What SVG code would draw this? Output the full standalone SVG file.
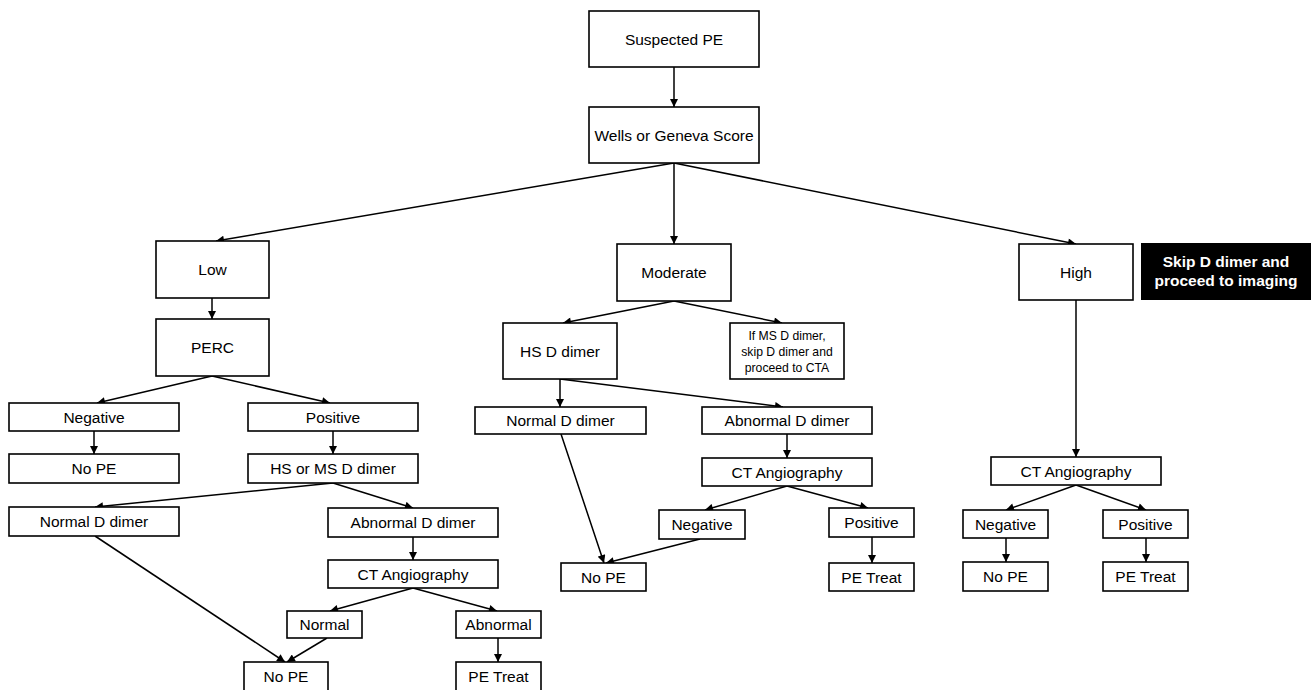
<svg xmlns="http://www.w3.org/2000/svg" width="1311" height="690" viewBox="0 0 1311 690">
<style>
.b{fill:#fff;stroke:#000;stroke-width:1.6}
.t{font-family:"Liberation Sans",Arial,sans-serif;font-size:15.5px;fill:#000;text-anchor:middle}
.s{font-family:"Liberation Sans",Arial,sans-serif;font-size:12.2px;fill:#000;text-anchor:middle}
.w{font-family:"Liberation Sans",Arial,sans-serif;font-size:15.5px;font-weight:bold;fill:#fff;text-anchor:middle}
.c line{stroke:#000;stroke-width:1.5;marker-end:url(#ah)}
</style>
<defs>
<marker id="ah" viewBox="0 0 10 10" refX="10" refY="5" markerWidth="9" markerHeight="8" markerUnits="userSpaceOnUse" orient="auto">
<path d="M0,0 L10,5 L0,10 z" fill="#000"/>
</marker>
</defs>
<rect width="1311" height="690" fill="#fff"/>
<g class="c" id="connectors">
<line x1="674" y1="67" x2="674" y2="107"/>
<line x1="674" y1="163" x2="216" y2="241"/>
<line x1="674" y1="163" x2="674" y2="244"/>
<line x1="674" y1="163" x2="1076" y2="244"/>
<line x1="212" y1="298" x2="212" y2="319"/>
<line x1="212" y1="376" x2="97" y2="403"/>
<line x1="212" y1="376" x2="330" y2="403"/>
<line x1="94" y1="431" x2="94" y2="454"/>
<line x1="333" y1="431" x2="333" y2="454"/>
<line x1="333" y1="483" x2="95" y2="507"/>
<line x1="333" y1="483" x2="413" y2="508"/>
<line x1="95" y1="536" x2="285" y2="662"/>
<line x1="413" y1="537" x2="413" y2="560"/>
<line x1="413" y1="588" x2="330" y2="611"/>
<line x1="413" y1="588" x2="497" y2="611"/>
<line x1="327" y1="638" x2="287" y2="662"/>
<line x1="498" y1="638" x2="498" y2="662"/>
<line x1="674" y1="301" x2="563" y2="323"/>
<line x1="674" y1="301" x2="782" y2="323"/>
<line x1="560" y1="379" x2="560" y2="407"/>
<line x1="560" y1="379" x2="783" y2="407"/>
<line x1="561" y1="434" x2="604" y2="563"/>
<line x1="787" y1="434" x2="787" y2="458"/>
<line x1="787" y1="486" x2="705" y2="510"/>
<line x1="787" y1="486" x2="868" y2="508"/>
<line x1="700" y1="539" x2="606" y2="563"/>
<line x1="872" y1="537" x2="872" y2="563"/>
<line x1="1076" y1="300" x2="1076" y2="457"/>
<line x1="1076" y1="485" x2="1006" y2="510"/>
<line x1="1076" y1="485" x2="1146" y2="510"/>
<line x1="1006" y1="538" x2="1006" y2="562"/>
<line x1="1146" y1="538" x2="1146" y2="562"/>
</g>
<g id="suspected"><rect class="b" x="589" y="11" width="170" height="56"/><text class="t" x="674" y="44.5">Suspected PE</text></g>
<g id="wells"><rect class="b" x="589" y="107" width="170" height="56"/><text class="t" x="674" y="140.5">Wells or Geneva Score</text></g>
<g id="low"><rect class="b" x="156" y="241" width="113" height="57"/><text class="t" x="212.5" y="275">Low</text></g>
<g id="perc"><rect class="b" x="156" y="319" width="113" height="57"/><text class="t" x="212.5" y="353">PERC</text></g>
<g id="l-neg"><rect class="b" x="9" y="403" width="170" height="28"/><text class="t" x="94" y="422.5">Negative</text></g>
<g id="l-nope1"><rect class="b" x="9" y="454" width="170" height="29"/><text class="t" x="94" y="474">No PE</text></g>
<g id="l-pos"><rect class="b" x="248" y="403" width="170" height="28"/><text class="t" x="333" y="422.5">Positive</text></g>
<g id="l-hsms"><rect class="b" x="248" y="454" width="170" height="29"/><text class="t" x="333" y="474">HS or MS D dimer</text></g>
<g id="l-normd"><rect class="b" x="9" y="507" width="170" height="29"/><text class="t" x="94" y="527">Normal D dimer</text></g>
<g id="l-abnd"><rect class="b" x="328" y="508" width="170" height="29"/><text class="t" x="413" y="528">Abnormal D dimer</text></g>
<g id="l-cta"><rect class="b" x="328" y="560" width="170" height="28"/><text class="t" x="413" y="579.5">CT Angiography</text></g>
<g id="l-normal"><rect class="b" x="287" y="611" width="75" height="27"/><text class="t" x="324.5" y="630">Normal</text></g>
<g id="l-abnormal"><rect class="b" x="456" y="611" width="85" height="27"/><text class="t" x="498.5" y="630">Abnormal</text></g>
<g id="l-nope2"><rect class="b" x="244" y="662" width="84" height="40"/><text class="t" x="286" y="682">No PE</text></g>
<g id="l-petreat"><rect class="b" x="456" y="662" width="85" height="40"/><text class="t" x="498.5" y="682">PE Treat</text></g>
<g id="moderate"><rect class="b" x="617" y="244" width="114" height="57"/><text class="t" x="674" y="278">Moderate</text></g>
<g id="m-hs"><rect class="b" x="503" y="323" width="114" height="56"/><text class="t" x="560" y="356.5">HS D dimer</text></g>
<g id="m-ms"><rect class="b" x="730" y="323" width="114" height="56"/><text class="s" x="787" y="339.5">If MS D dimer,</text><text class="s" x="787" y="355.5">skip D dimer and</text><text class="s" x="787" y="371.5">proceed to CTA</text></g>
<g id="m-normd"><rect class="b" x="475" y="407" width="171" height="27"/><text class="t" x="560.5" y="426">Normal D dimer</text></g>
<g id="m-abnd"><rect class="b" x="702" y="407" width="170" height="27"/><text class="t" x="787" y="426">Abnormal D dimer</text></g>
<g id="m-cta"><rect class="b" x="702" y="458" width="170" height="28"/><text class="t" x="787" y="477.5">CT Angiography</text></g>
<g id="m-neg"><rect class="b" x="659" y="510" width="86" height="29"/><text class="t" x="702" y="530">Negative</text></g>
<g id="m-pos"><rect class="b" x="829" y="508" width="85" height="29"/><text class="t" x="871.5" y="528">Positive</text></g>
<g id="m-nope"><rect class="b" x="561" y="563" width="85" height="28"/><text class="t" x="603.5" y="582.5">No PE</text></g>
<g id="m-petreat"><rect class="b" x="829" y="563" width="85" height="28"/><text class="t" x="871.5" y="582.5">PE Treat</text></g>
<g id="high"><rect class="b" x="1019" y="244" width="114" height="56"/><text class="t" x="1076" y="277.5">High</text></g>
<g id="skip"><rect x="1141" y="243" width="172" height="57" fill="#000"/><text class="w" x="1226" y="267">Skip D dimer and</text><text class="w" x="1226" y="286">proceed to imaging</text></g>
<g id="h-cta"><rect class="b" x="991" y="457" width="170" height="28"/><text class="t" x="1076" y="476.5">CT Angiography</text></g>
<g id="h-neg"><rect class="b" x="963" y="510" width="85" height="28"/><text class="t" x="1005.5" y="529.5">Negative</text></g>
<g id="h-pos"><rect class="b" x="1103" y="510" width="85" height="28"/><text class="t" x="1145.5" y="529.5">Positive</text></g>
<g id="h-nope"><rect class="b" x="963" y="562" width="85" height="29"/><text class="t" x="1005.5" y="582">No PE</text></g>
<g id="h-petreat"><rect class="b" x="1103" y="562" width="85" height="29"/><text class="t" x="1145.5" y="582">PE Treat</text></g>
</svg>
